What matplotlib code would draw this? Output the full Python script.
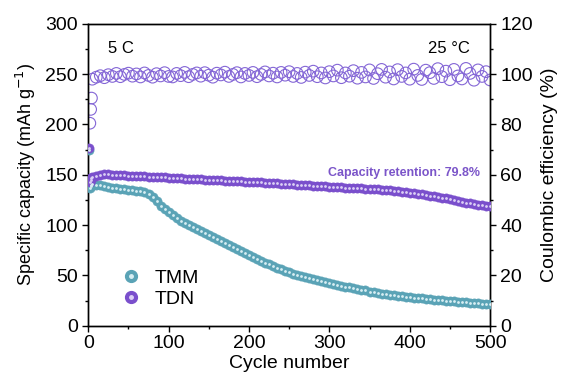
import matplotlib
matplotlib.use("Agg")
import matplotlib.pyplot as plt
from matplotlib.lines import Line2D
from matplotlib.ticker import MultipleLocator

plt.rcParams['font.family'] = ['Liberation Sans', 'DejaVu Sans']

# cycle grid: first four cycles, then every 5th cycle
cycles = [1, 2, 3, 4] + list(range(5, 501, 5))

tmm_cap = [175, 137, 139, 140,
           141, 140, 140, 139, 138, 137, 137, 136, 136, 135,
           135, 134, 134, 133, 131, 128, 124, 119, 116, 113,
           110, 107, 104, 102, 100, 98, 96, 94, 92, 90,
           88, 86, 84, 82, 80, 78, 76, 74, 72, 70,
           68, 66, 64, 62.5, 61, 59, 57.5, 56, 54.5, 53,
           51.5, 50, 49, 48, 47, 46, 45, 44, 43, 42,
           41, 40.5, 39.5, 38.5, 38, 37, 36.5, 35.5, 35, 34,
           33.5, 33, 32, 31.5, 31, 30.5, 30, 29.5, 29, 28.5,
           28, 27.5, 27.5, 27, 26.5, 26, 25.5, 25.5, 25, 24.5,
           24.5, 24, 23.5, 23.5, 23, 22.5, 22.5, 22, 22, 21.5]

tdn_cap = [177, 143, 145, 147,
           148, 149, 150, 150.5, 150.5, 150, 150, 149.5, 149.5, 149,
           149, 149, 148.5, 148.5, 148, 148, 148, 147.5, 147.5, 147,
           147, 146.5, 146.5, 146, 146, 146, 145.5, 145.5, 145, 145,
           145, 144.5, 144.5, 144, 144, 144, 143.5, 143.5, 143, 143,
           143, 142.5, 142.5, 142, 142, 141.5, 141.5, 141, 141, 140.5,
           140.5, 140, 140, 139.5, 139.5, 139, 139, 138.5, 138.5, 138,
           138, 137.5, 137.5, 137, 137, 137, 136.5, 136.5, 136, 136,
           135.5, 135.5, 135, 134.5, 134.5, 134, 133.5, 133, 132.5, 132,
           131.5, 131, 130.5, 130, 129, 128.5, 128, 127, 126.5, 125.5,
           125, 124, 123, 122, 121.5, 121, 120, 119.5, 119, 118.5]

ce_cycles = [2, 3, 4] + list(range(5, 501, 5))

tdn_ce = [80.5, 86, 90.5,
          98.0, 98.8, 99.4, 98.6, 99.8, 99.1, 100.3, 99.0, 99.9, 100.4,
          99.2, 100.1, 98.9, 100.5, 99.5, 98.8, 100.2, 99.3, 100.6, 99.1,
          98.9, 100.3, 99.4, 100.7, 99.0, 99.9, 100.5, 99.2, 100.6, 99.6,
          98.8, 100.4, 99.7, 100.8, 99.1, 99.9, 100.6, 98.9, 100.3, 99.5,
          100.7, 99.0, 99.9, 100.9, 99.3, 100.4, 98.9, 100.7, 99.6, 101.0,
          99.1, 100.3, 98.7, 100.8, 99.5, 101.2, 99.0, 100.5, 98.5, 101.0,
          99.3, 101.6, 98.6, 100.5, 99.2, 101.4, 98.4, 100.7, 98.9, 101.7,
          98.3, 100.2, 101.9, 98.8, 100.9, 98.1, 101.8, 99.1, 100.5, 98.0,
          102.0, 99.5, 97.9, 101.6, 100.6, 98.3, 102.2, 99.0, 101.2, 97.8,
          101.9, 99.3, 98.1, 102.3, 100.3, 97.6, 101.7, 99.1, 101.0, 97.7]

tmm_color = '#5aa3b6'
tdn_color = '#7a4fcc'
ce_color = '#8466d6'

fig = plt.figure(figsize=(5.62, 3.85), dpi=100)
ax = fig.add_axes([0.157, 0.154, 0.715, 0.784])
ax2 = ax.twinx()

# Coulombic efficiency on the right axis (drawn first so it sits behind)
ax2.scatter(ce_cycles, tdn_ce, s=70, facecolors='none', edgecolors=ce_color,
            linewidths=0.8, zorder=2)

# capacity, spheres with a light highlight
ax.scatter(cycles, tmm_cap, s=44, color=tmm_color, edgecolors=tmm_color,
           linewidths=0.4, zorder=3)
ax.scatter(cycles, tmm_cap, s=4, color='#d8eef3', linewidths=0, zorder=4)
ax.scatter(cycles, tdn_cap, s=44, color=tdn_color, edgecolors=tdn_color,
           linewidths=0.4, zorder=3)
ax.scatter(cycles, tdn_cap, s=4, color='#dcd0f5', linewidths=0, zorder=4)

ax.set_zorder(ax2.get_zorder() + 1)
ax.patch.set_visible(False)

ax.set_xlim(0, 500)
ax.set_ylim(0, 300)
ax2.set_ylim(0, 120)

ax.xaxis.set_major_locator(MultipleLocator(100))
ax.xaxis.set_minor_locator(MultipleLocator(50))
ax.yaxis.set_major_locator(MultipleLocator(50))
ax.yaxis.set_minor_locator(MultipleLocator(25))
ax2.yaxis.set_major_locator(MultipleLocator(20))
ax2.yaxis.set_minor_locator(MultipleLocator(10))

for a in (ax, ax2):
    a.tick_params(which='major', direction='out', length=4, width=1,
                  labelsize=14)
    a.tick_params(which='minor', direction='out', length=2.5, width=1)
    for sp in a.spines.values():
        sp.set_linewidth(1)
ax.tick_params(axis='y', which='both', right=False)
ax.tick_params(axis='x', which='both', top=False, pad=3)

ax.set_xlabel('Cycle number', fontsize=14, labelpad=2)
ax.set_ylabel('Specific capacity (mAh g$^{-1}$)', fontsize=13, labelpad=5)
ax2.set_ylabel('Coulombic efficiency (%)', fontsize=14, labelpad=6)

ax.text(0.05, 0.92, '5 C', transform=ax.transAxes, fontsize=12,
        ha='left', va='center')
ax.text(0.95, 0.92, '25 °C', transform=ax.transAxes, fontsize=12,
        ha='right', va='center')
ax.text(0.975, 0.505, 'Capacity retention: 79.8%', transform=ax.transAxes,
        fontsize=9, fontweight='bold', color='#7b55c9', ha='right', va='center')

h_tmm = (Line2D([], [], ls='none', marker='o', ms=8.5, color=tmm_color),
         Line2D([], [], ls='none', marker='o', ms=2.5, color='#d8eef3'))
h_tdn = (Line2D([], [], ls='none', marker='o', ms=8.5, color=tdn_color),
         Line2D([], [], ls='none', marker='o', ms=2.5, color='#dcd0f5'))
ax.legend([h_tmm, h_tdn], ['TMM', 'TDN'], loc='lower left',
          bbox_to_anchor=(0.035, 0.0), frameon=False, fontsize=14,
          handlelength=1.2, handletextpad=0.6, labelspacing=0.2)

fig.savefig('out.png', dpi=100)
